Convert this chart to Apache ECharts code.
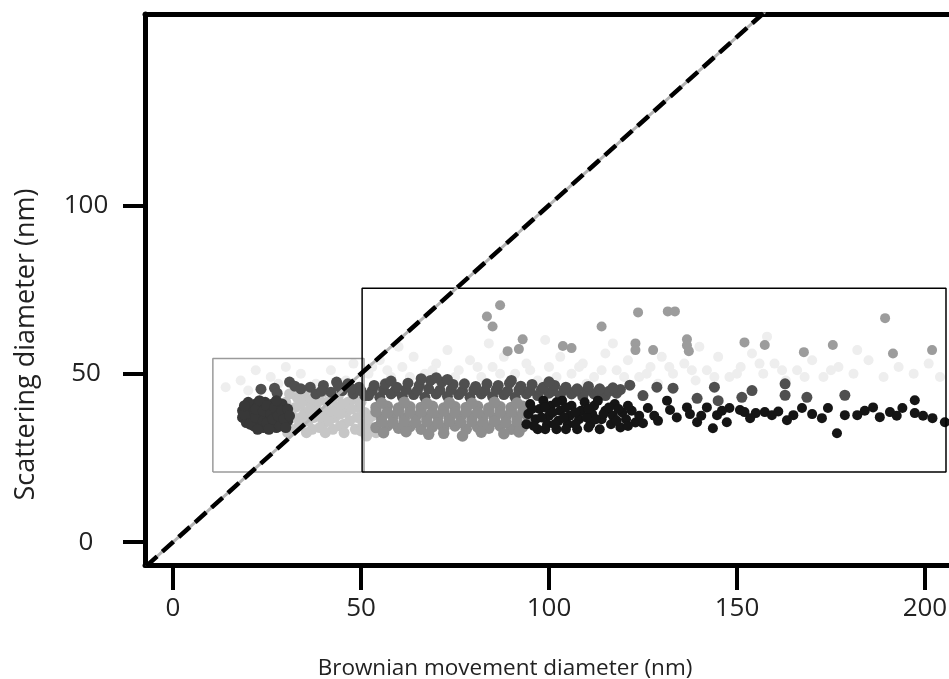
<!DOCTYPE html>
<html>
<head>
<meta charset="utf-8">
<script src="https://cdn.jsdelivr.net/npm/echarts@6/dist/echarts.min.js"></script>
<style>html,body{margin:0;padding:0;background:#fff;}#c{width:949px;height:679px;}</style>
</head>
<body>
<div id="c"></div>
<script>
// ---- tick labels / axis ranges ----
const xTicks = [0, 50, 100, 150, 200];
const yTicks = [0, 50, 100];
const xRange = [-7.45, 206.4];
const yRange = [-6.8, 156.8];

// ---- reference line and boxes (data space) ----
const diagLine = [[-7.2, -7.2], [157.5, 157.5]];
const boxSmall = [[10.6, 20.8], [10.6, 54.5], [50.8, 54.5], [50.8, 20.8], [10.6, 20.8]];
const boxLarge = [[50.3, 20.8], [50.3, 75.4], [205.6, 75.4], [205.6, 20.8], [50.3, 20.8]];

// ---- scatter groups ----
const veryLight = [[14,46],[18,48],[22,51],[26,49],[30,52],[34,50],[38,47],[42,51],[46,48],[48,53],
[52,50],[55,54],[58,49],[61,52],[64,55],[67,50],[70,53],[73,57],[76,51],[79,54],[82,49],[85,52],[88,55],
[91,50],[94,53],[97,48],[100,52],[103,55],[106,50],[109,53],[112,49],[115,56],[118,51],[121,54],[124,49],
[127,52],[130,55],[133,50],[136,53],[139,48],[142,51],[145,55],[148,49],[151,52],[154,56],[157,50],[160,53],
[163,48],[166,51],[170,54],[173,49],[177,52],[181,50],[185,54],[189,49],[193,52],[197,50],[201,53],[204,49],
[60,58],[84,59],[99,60],[117,59],[140,58],[158,61],[182,57],[71,47],[93,46],[129,47],[56,47],[66,48],[110,47],
[53,52],[57,51],[63,49],[69,51],[75,49],[81,52],[87,50],[95,51],[102,49],[108,52],[114,51],[120,49],[126,50],
[132,52],[138,51],[144,49],[150,50],[156,53],[162,51],[168,49],[175,51],[20,45],[28,47]];

const outliers = [[83.5,67],[85,64],[87,70.3],[89,56.7],[92,57.3],[93,60.2],[103.7,58.2],[106,57.6],[114,64],
[123.7,68.2],[123,59],[123,57],[127.7,57],[131.6,68.5],[133.5,68.5],[136.7,60.2],[136.7,58.4],[137.2,56.7],
[152,59.3],[157.4,58.5],[167.8,56.4],[175.5,58.5],[189.4,66.5],[191.5,56],[201.9,57]];

const lightGray = [[29,35],[29.5,38.5],[30,41.5],[31.5,33.5],[32,37],[32.5,40],[33,43],[34.5,35.5],[35,38.5],
[35.5,42],[37,33.5],[37.5,37],[38,40],[38.5,43.5],[40,35],[40.5,38.5],[41,41.5],[42.5,33.5],[43,37],[43.5,40],
[44,43.5],[45.5,35],[46,38.5],[46.5,41.5],[47.5,44.5],[48.5,33.5],[49,37],[49.5,40],[50.5,35],[51,38.5],
[51.5,31.5],[52.5,34],[53,37.5],[54,32.5],
[30.5,36.5],[31,39.5],[33.5,34.5],[34,37],[34,41],[36,36],[36.5,39.5],[37,42.5],[39,34],[39.5,37],[39,42],
[41.5,36],[42,39],[42.5,42.5],[44.5,34.5],[44.5,38],[45,41],[47,36],[47.5,39.5],[48,42.5],[50,33],[50,41.5],
[52,36.5],[31,44],[35,44.5],[40,44.5],[45,45],[30.5,32.5],[35.5,32.5],[40.5,32.5],[45.5,32.5]];

const darkBlob = [[18.5,37],[18.5,39],[19.5,35.5],[20,40],[21,36.5],[21,38.5],[21.5,34.5],[22,41],[23,35.5],
[23,38],[23.5,40.5],[24,34],[24.5,41.5],[25,37],[25.5,39.5],[26,35],[26.5,41],[27,37.5],[27.5,34],[28,39.5],
[28.5,36],[29,41],[29.5,34.5],[30,38],[30.5,36],
[19,38],[20.5,35],[20,41.5],[22,37],[22,39.5],[23,42],[24,36],[24,39],[25,35.5],[25,40.5],[26,38],[26.5,36.5],
[27,40],[27.5,42],[28,37.5],[28.5,34.5],[29,39],[29.5,36.5],[30,34],[30.5,39.5],[31,37.5],[22.5,33.5],
[25.5,33.5],[19,40.5]];

const darkGray = [[23.4,45.4],[27,45.7],[27.7,44.2],[31,47.5],[32.4,46.3],
[36.5,46],[38,44],[40,46.5],[42,44.5],[43.5,47.5],[45,45],[46.5,47],[48,44],[49.5,46],[51,43.5],
[34,45.5],[39.5,44.8],[44,46.3],[47.5,45.5],[50,45],
[52,43.5],[55,43],[58,44],[61,43.2],[64,43.8],[67,43],[70,44],[73,43.3],[76,43.8],[79,43],[82,44],[85,43.2],
[88,43.8],[91,43],[94,44],[97,43.5],[100,44.2],[103,43.5],[106,44],[109,43.2],[112,44],[115,43.5],[118,44.2],
[53,45],[56,45.2],[59,44.8],[62,45.3],[65,45],[68,45.5],[71,45.1],[74,45.3],[77,44.9],[80,45.2],[83,45],
[86,45.3],[89,44.8],[92,45.2],[95,45],[98,45.3],[101,44.9],[104,45.2],[107,44.8],[110,45],[113,44.7],
[116,44.8],[119,45.3],
[53.5,46.5],[56.5,47],[59.5,46],[62.5,47.2],[65.5,46.5],[68.5,48],[71.5,47.5],[74.5,46.8],[77.5,47],[80.5,46.2],
[83.5,47],[86.5,46.5],[89.5,47.2],[92.5,46.3],[95.5,46.8],[98.5,46],[101.5,46.5],[104.5,46],[107.5,45.5],
[110.5,46.2],[113.5,45.5],[117,45.8],
[66,48.5],[70,48.8],[73,48.3],[58,47.8],[90,48],[100,47.6],
[121.5,46.6],[128.7,46],[133,45.7],[144,46],[139.4,42.7],[145,42],[151.3,43],[154,45],[162.8,47],[162.8,43.6],
[168.6,43],[178.7,43.6],[125,43.5]];

const mediumGray = [[54,34],[57,34.5],[60,33.8],[63,34.3],[66,33.5],[69,34.2],[72,33.8],[75,34.5],[78,33.5],
[81,34.2],[84,33.8],[87,34.5],[90,33.5],[93,34.2],
[55.5,37],[58.5,37.3],[61.5,36.8],[64.5,37.2],[67.5,37],[70.5,37.3],[73.5,36.8],[76.5,37.2],[79.5,37],
[82.5,37.3],[85.5,36.8],[88.5,37.2],[91.5,37],[94.5,37.3],
[54,40],[57,40.3],[60,39.8],[63,40.2],[66,40],[69,40.3],[72,39.8],[75,40.2],[78,40],[81,40.3],[84,39.8],
[87,40.2],[90,40],[93,40.3],[68,32],[77,31.5],
[55.5,35.7],[58.5,35.4],[61.5,35.9],[64.5,35.5],[67.5,35.8],[70.5,35.4],[73.5,35.9],[76.5,35.5],[79.5,35.8],
[82.5,35.4],[85.5,35.9],[88.5,35.5],[91.5,35.8],[94.5,35.4],
[54,38.7],[57,38.5],[60,39],[63,38.6],[66,38.8],[69,38.5],[72,39],[75,38.6],[78,38.8],[81,38.5],[84,39],
[87,38.6],[90,38.8],[93,38.5],
[56,32.5],[62,32.8],[72,32.3],[82,32.6],[88,32.2],[92,32.7],
[55.5,41.3],[61.5,41.5],[67.5,41.2],[73.5,41.4],[79.5,41.2],[85.5,41.5],[91.5,41.3]];

const black = [[94,35],[94.5,38],[95,41],[96.5,36.5],[97,33.5],[97.5,39.5],[98.5,42],[99.5,35],[100,37.5],
[100.5,40.5],[102,33.5],[102.5,36],[103,39],[103.5,42],[105,35],[105.5,37.5],[106,40.5],[107.5,33.5],
[108,36.5],[108.5,39],[109.5,41.5],[111,35],[111.5,38],[112,40.5],[113.5,33.5],[114,36.5],[115,39],
[116.5,35],[117,37.5],[117.5,41],[119,34],[119.5,38.5],[120.5,36.5],[122,39],[123,35.5],
[95.5,39.5],[96,34.5],[98,37],[99,40],[99,33.5],[101,38.5],[101.5,35],[102,41.5],[104,37],[104.5,33.5],
[104.5,40],[107,38.5],[107,35],[110,37],[110.5,34],[110.5,39.5],[112.5,36.5],[113,42],[114.5,38],[116,40],
[118,36],[118.5,39.5],[121,34.5],[121,40.5],[124,37.5],
[125,35.3],[126.3,39.8],[128,37.5],[131.4,42],[132.2,39.2],[134,37],[136.7,40],[139.4,35.6],[142,40],
[143.6,33.8],[144.7,37.7],[147.3,35.6],[148,39.8],[150.8,39.2],[152,38.6],[155,38.3],[157.4,38.6],
[159.3,37.7],[163.3,36.2],[165,37.7],[167.3,39.8],[172.6,36.8],[174.2,39.8],[176.6,32.3],[178.7,37.7],
[182,37.7],[186.2,40],[188,37.1],[190.7,38.6],[194,39.8],[197.3,42.1],[197.3,38.3],[202,36.8],[205.3,35.6],
[129,36],[137.5,38],[140.5,37.5],[146,39],[153.5,36.8],[161,38.8],[170,38],[184,39],[192.5,37.5],[199.5,37.5]];

const FONT = 'Open Sans';
function sc(data, color, z, size) {
  return {type: 'scatter', data: data, symbolSize: size, z: z, silent: true,
    itemStyle: {color: color, opacity: 1}};
}

const chart = echarts.init(document.getElementById('c'), null, {renderer: 'canvas'});
chart.setOption({
  animation: false,
  backgroundColor: '#ffffff',
  grid: {left: 145, right: 0, top: 14, bottom: 114, containLabel: false, outerBoundsMode: 'none'},
  xAxis: [{
    type: 'value', min: xRange[0], max: xRange[1], position: 'bottom',
    name: 'Brownian movement diameter (nm)', nameLocation: 'middle', nameGap: 92,
    nameTextStyle: {fontFamily: FONT, fontSize: 22.5, color: '#222', padding: [0, 84, 0, 0]},
    axisLine: {show: true, onZero: false, lineStyle: {color: '#000', width: 5}},
    axisTick: {show: true, customValues: xTicks, length: 25, lineStyle: {color: '#000', width: 4}},
    axisLabel: {show: true, customValues: xTicks, margin: 31, fontFamily: FONT, fontSize: 26, color: '#222'},
    splitLine: {show: false}
  }, {
    type: 'value', min: xRange[0], max: xRange[1], position: 'top',
    axisLine: {show: true, onZero: false, lineStyle: {color: '#000', width: 5}},
    axisTick: {show: false}, axisLabel: {show: false}, splitLine: {show: false}
  }],
  yAxis: [{
    type: 'value', min: yRange[0], max: yRange[1],
    name: 'Scattering diameter (nm)', nameLocation: 'middle', nameGap: 105,
    nameTextStyle: {fontFamily: FONT, fontSize: 27, color: '#222', padding: [0, 110, 0, 0]},
    axisLine: {show: true, onZero: false, lineStyle: {color: '#000', width: 5}},
    axisTick: {show: true, customValues: yTicks, length: 22, lineStyle: {color: '#000', width: 4}},
    axisLabel: {show: true, customValues: yTicks, margin: 59, align: 'center', fontFamily: FONT, fontSize: 26, color: '#222'},
    splitLine: {show: false}
  }],
  series: [
    sc(veryLight, '#eeeeee', 2, 10),
    sc(outliers, '#9c9c9c', 3, 10),
    sc(lightGray, '#c6c6c6', 4, 11),
    sc(darkGray, '#4f4f4f', 5, 11),
    sc(mediumGray, '#8e8e8e', 6, 11.5),
    sc(darkBlob, '#383838', 7, 11),
    sc(black, '#151515', 8, 10),
    {type: 'line', data: boxSmall, showSymbol: false, silent: true, z: 9,
      lineStyle: {color: '#9a9a9a', width: 1.5}},
    {type: 'line', data: boxLarge, showSymbol: false, silent: true, z: 9,
      lineStyle: {color: '#000', width: 1.5}},
    {type: 'line', data: diagLine, showSymbol: false, silent: true, z: 10,
      lineStyle: {color: '#b4b4b4', width: 3}},
    {type: 'line', data: diagLine, showSymbol: false, silent: true, z: 11,
      lineStyle: {color: '#000', width: 4.5, type: [15, 7]}}
  ]
});
</script>
</body>
</html>
